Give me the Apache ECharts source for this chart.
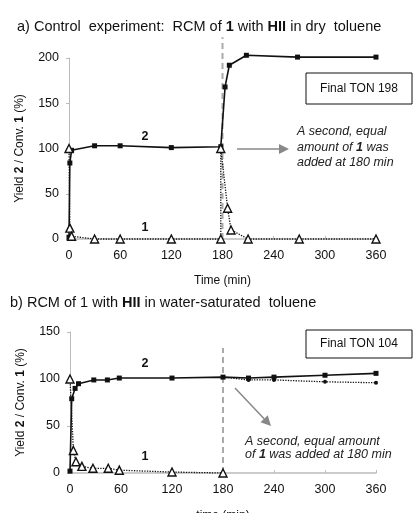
<!DOCTYPE html>
<html>
<head>
<meta charset="utf-8">
<script src="https://cdn.jsdelivr.net/npm/echarts@6/dist/echarts.min.js"></script>
<style>
  html, body { margin: 0; padding: 0; background: #fff; }
  #chart { width: 414px; height: 513px; }
</style>
</head>
<body>
<div id="chart"></div>
<script>
// x ticks (min) shared by both panels
var timeTicks = [0, 60, 120, 180, 240, 300, 360];

// panel a: dry toluene
var yieldA = [[0, 2], [1, 84], [3, 98], [30, 103], [60, 103], [120, 101], [178, 102],
  [183, 168], [188, 192], [208, 203], [268, 201], [360, 201]];
var convA = [[0, 100], [1, 12], [3, 3], [30, 0], [60, 0], [120, 0], [178, 0], [178, 100],
  [186, 34], [190, 10], [210, 0], [270, 0], [360, 0]];

// panel b: water-saturated toluene
var yieldB = [[0, 2], [2, 79], [6, 90], [10, 95], [28, 99], [44, 99], [58, 101], [120, 101],
  [180, 102], [210, 101], [240, 102], [300, 104], [360, 106]];
var convB = [[0, 100], [4, 24], [7, 12], [14, 7], [27, 5], [45, 5], [58, 3], [120, 1], [180, 0]];
var yieldB2 = [[180, 102], [210, 99], [240, 99], [300, 97], [360, 96]];

var addTime = 180;
var tonA = 198, tonB = 104;

var FONT = "Liberation Sans, Arial, sans-serif";
var chart = echarts.init(document.getElementById("chart"), null, { renderer: "canvas" });

function xAxisOpt(idx, name, gap) {
  return {
    type: "value", gridIndex: idx, min: 0, max: 360, interval: 60,
    name: name, nameLocation: "middle", nameGap: gap,
    nameTextStyle: { fontFamily: FONT, fontSize: 12, color: "#111" },
    axisLine: { lineStyle: { color: "#bbb", width: 1.5 } },
    axisTick: { inside: true, length: 3, lineStyle: { color: "#bbb" } },
    axisLabel: { fontFamily: FONT, fontSize: 12.5, color: "#111", margin: 10 },
    splitLine: { show: false }
  };
}
function yAxisOpt(idx, max) {
  return {
    type: "value", gridIndex: idx, min: 0, max: max, interval: 50,
    name: "{n|Yield }{b|2}{n| / Conv. }{b|1}{n| (%)}",
    nameLocation: "middle", nameGap: 43, nameRotate: 90,
    nameTextStyle: {
      rich: {
        n: { fontFamily: FONT, fontSize: 12, color: "#111" },
        b: { fontFamily: FONT, fontSize: 12, fontWeight: "bold", color: "#111" }
      }
    },
    axisLine: { show: true, lineStyle: { color: "#bbb", width: 1 } },
    axisTick: { show: true, length: 3, lineStyle: { color: "#bbb" } },
    axisLabel: { fontFamily: FONT, fontSize: 12.5, color: "#111", margin: 10 },
    splitLine: { show: false }
  };
}
function yieldSeries(idx, data) {
  return {
    type: "line", xAxisIndex: idx, yAxisIndex: idx, data: data, z: 4,
    symbol: "rect", symbolSize: 5, clip: false,
    lineStyle: { color: "#111", width: 1.6 },
    itemStyle: { color: "#111" }
  };
}
function convSeries(idx, data) {
  return {
    type: "line", xAxisIndex: idx, yAxisIndex: idx, data: data, z: 5,
    symbol: "triangle", symbolSize: 8, clip: false,
    lineStyle: { color: "#111", width: 1.3, type: "dotted" },
    itemStyle: { color: "#fff", borderColor: "#111", borderWidth: 1.4 }
  };
}

var rich = {
  n: { fontFamily: FONT, fontSize: 14.5, fontWeight: "normal", color: "#111" },
  b: { fontFamily: FONT, fontSize: 14.5, fontWeight: "bold", color: "#111" }
};
var noteRich = { b: { font: "italic bold 12.5px " + FONT, fill: "#222" } };

function arrow(x1, y1, x2, y2) {
  var a = Math.atan2(y2 - y1, x2 - x1), L = 10, W = 5;
  var bx = x2 - L * Math.cos(a), by = y2 - L * Math.sin(a);
  var px = -Math.sin(a) * W, py = Math.cos(a) * W;
  return [
    { type: "line", shape: { x1: x1, y1: y1, x2: bx, y2: by }, style: { stroke: "#888", lineWidth: 1.5 } },
    { type: "polygon", shape: { points: [[x2, y2], [bx + px, by + py], [bx - px, by - py]] }, style: { fill: "#888" } }
  ];
}
function box(x, y, w, h, text) {
  return [
    { type: "rect", shape: { x: x, y: y, width: w, height: h }, style: { fill: "#fff", stroke: "#111", lineWidth: 1 } },
    { type: "text", x: x + w / 2, y: y + h / 2, style: { text: text, font: "12px " + FONT, fill: "#111", align: "center", verticalAlign: "middle" } }
  ];
}
function note(x, y, text, lh) {
  return { type: "text", x: x, y: y, style: { text: text, font: "italic 12.5px " + FONT, fill: "#222", lineHeight: lh, rich: noteRich } };
}
function tag(x, y, t) {
  return { type: "text", x: x, y: y, style: { text: t, font: "bold 12.5px " + FONT, fill: "#111", align: "center", verticalAlign: "middle" } };
}

chart.setOption({
  animation: false,
  backgroundColor: "#fff",
  title: [
    { text: "{n|a) Control  experiment:  RCM of }{b|1}{n| with }{b|HII}{n| in dry  toluene}", left: 12, top: 14, textStyle: { rich: rich } },
    { text: "{n|b) RCM of 1 with }{b|HII}{n| in water-saturated  toluene}", left: 5, top: 290, textStyle: { rich: rich } }
  ],
  grid: [
    { left: 69, right: 38, top: 58, bottom: 274, containLabel: false, outerBoundsMode: "none" },
    { left: 70, right: 38, top: 332, bottom: 40, containLabel: false, outerBoundsMode: "none" }
  ],
  xAxis: [xAxisOpt(0, "Time (min)", 36), xAxisOpt(1, "time (min)", 37)],
  yAxis: [yAxisOpt(0, 200), yAxisOpt(1, 150)],
  series: [
    yieldSeries(0, yieldA), convSeries(0, convA),
    yieldSeries(1, yieldB), convSeries(1, convB),
    {
      type: "line", xAxisIndex: 1, yAxisIndex: 1, data: yieldB2, z: 3,
      symbol: "circle", symbolSize: 4, clip: false,
      lineStyle: { color: "#111", width: 1.3, type: "dotted" },
      itemStyle: { color: "#111" }
    }
  ]
});

// dashed marker at the second addition, placed through the axes
function dashAt(gridIdx, topVal) {
  var p0 = chart.convertToPixel({ xAxisIndex: gridIdx, yAxisIndex: gridIdx }, [addTime, 0]);
  var p1 = chart.convertToPixel({ xAxisIndex: gridIdx, yAxisIndex: gridIdx }, [addTime, topVal]);
  return { type: "line", z: 1, shape: { x1: p0[0], y1: p0[1], x2: p1[0], y2: p1[1] },
    style: { stroke: "#aaa", lineWidth: 2, lineDash: [6, 4] } };
}

var graphics = [dashAt(0, 223), dashAt(1, 133)]
  .concat(box(306, 73, 106, 31, "Final TON " + tonA))
  .concat(box(306, 330, 106, 28, "Final TON " + tonB))
  .concat(arrow(237, 149, 289, 149))
  .concat(arrow(235, 388, 271, 426))
  .concat([
    note(297, 124, "A second, equal\namount of {b|1} was\nadded at 180 min", 15.5),
    note(245, 435, "A second, equal amount\nof {b|1} was added at 180 min", 13),
    tag(145, 137, "2"), tag(145, 228, "1"),
    tag(145, 364, "2"), tag(145, 457, "1")
  ]);

chart.setOption({ graphic: graphics });
</script>
</body>
</html>
